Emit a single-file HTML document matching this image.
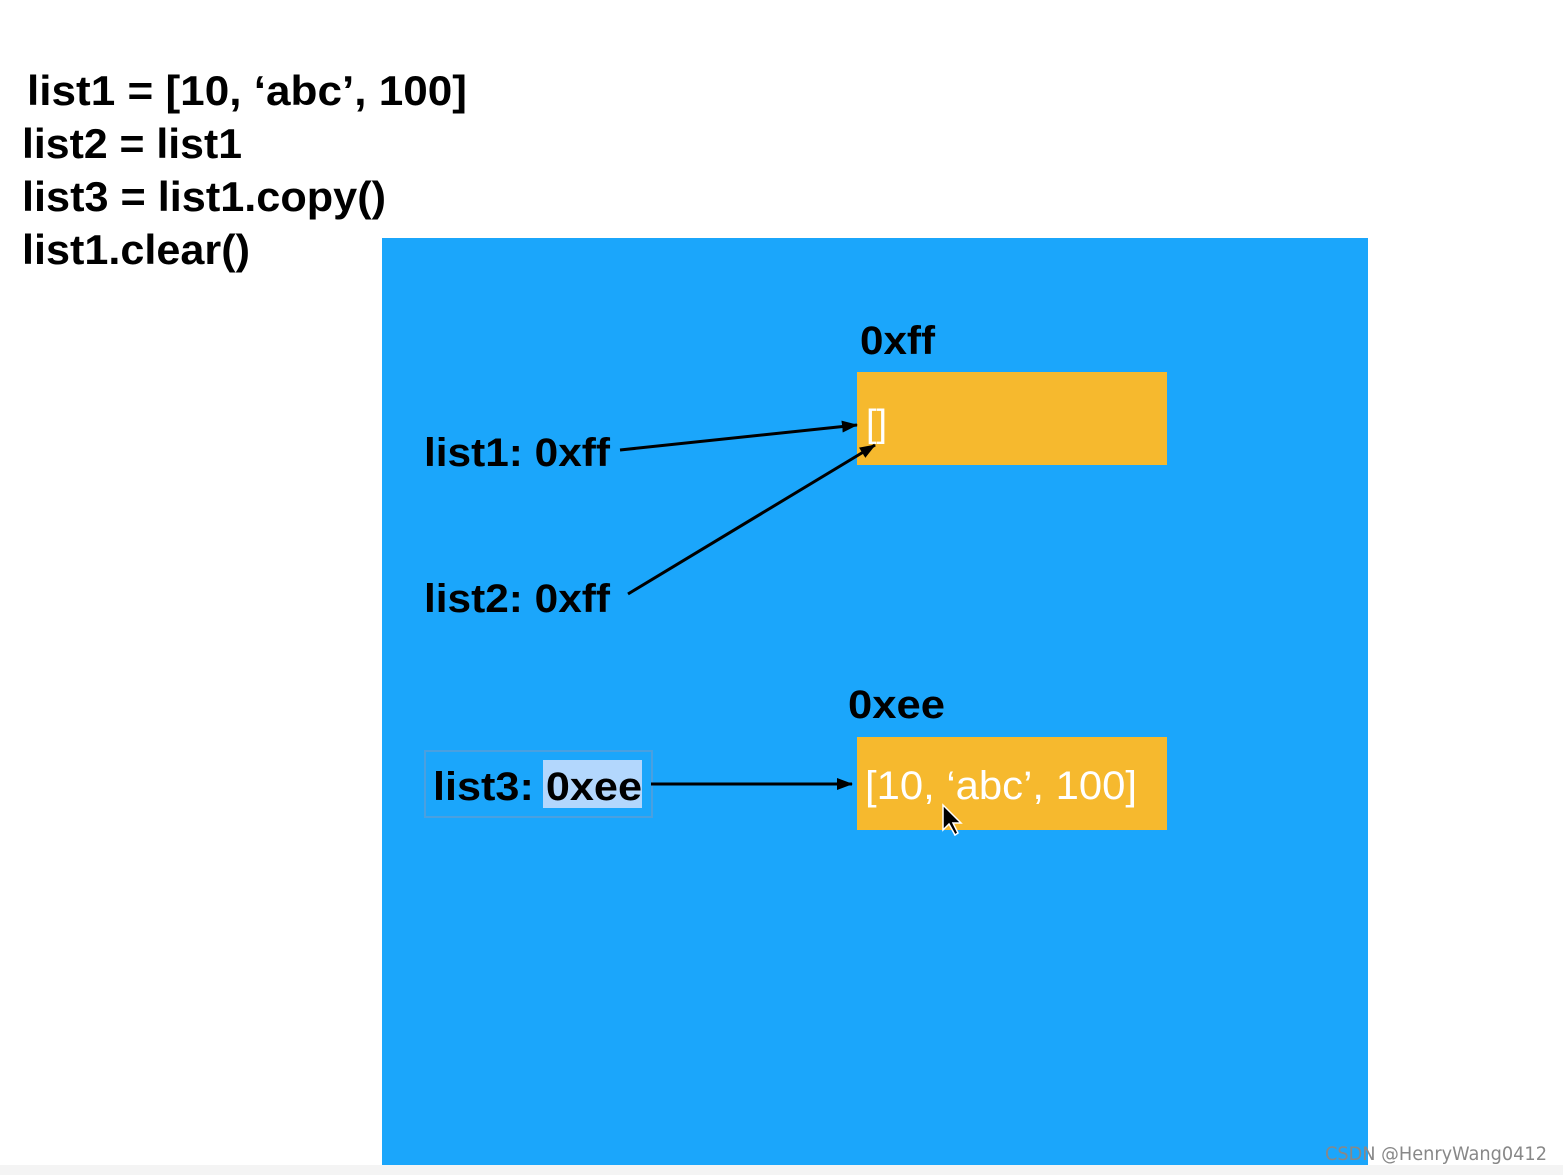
<!DOCTYPE html>
<html><head><style>body{margin:0;background:#fff}svg{display:block}</style></head><body>
<svg width="1563" height="1175" xmlns="http://www.w3.org/2000/svg" font-family="Liberation Sans, sans-serif">
<defs><marker id="a" markerWidth="16" markerHeight="12" refX="15" refY="6" orient="auto" markerUnits="userSpaceOnUse"><path d="M0,0 L16,6 L0,12 Z" fill="#000"/></marker></defs>
<rect x="0" y="1165" width="1563" height="10" fill="#f4f4f4"/>
<rect x="382" y="238" width="986" height="927" fill="#1ba6fb"/>
<g font-weight="bold" font-size="42" fill="#000">
<text x="27" y="105" textLength="440" lengthAdjust="spacingAndGlyphs">list1 = [10, ‘abc’, 100]</text>
<text x="22" y="158" textLength="220" lengthAdjust="spacingAndGlyphs">list2 = list1</text>
<text x="22" y="211" textLength="364" lengthAdjust="spacingAndGlyphs">list3 = list1.copy()</text>
<text x="22" y="264" textLength="228" lengthAdjust="spacingAndGlyphs">list1.clear()</text>
</g>
<rect x="857" y="372" width="310" height="93" fill="#f6b92e"/>
<rect x="857" y="737" width="310" height="93" fill="#f6b92e"/>
<g font-weight="bold" font-size="40" fill="#000">
<text x="860" y="354" textLength="75" lengthAdjust="spacingAndGlyphs">0xff</text>
<text x="848" y="718" textLength="97" lengthAdjust="spacingAndGlyphs">0xee</text>
<text x="424" y="466" textLength="186" lengthAdjust="spacingAndGlyphs">list1: 0xff</text>
<text x="424" y="612" textLength="186" lengthAdjust="spacingAndGlyphs">list2: 0xff</text>
</g>
<rect x="425" y="751" width="227" height="66" fill="none" stroke="#4aa0e0" stroke-width="2"/>
<rect x="543" y="760" width="99" height="48" fill="#b3d7fd"/>
<text x="433" y="800" font-weight="bold" font-size="40" textLength="209" lengthAdjust="spacingAndGlyphs">list3: 0xee</text>
<text x="865" y="799" font-size="40" fill="#fff" textLength="272" lengthAdjust="spacingAndGlyphs">[10, ‘abc’, 100]</text>
<text x="866" y="436" font-size="38" fill="#fff">[]</text>
<g stroke="#000" stroke-width="3" fill="none">
<line x1="620" y1="450" x2="857" y2="425" marker-end="url(#a)"/>
<line x1="628" y1="594" x2="875" y2="445" marker-end="url(#a)"/>
<line x1="651" y1="784" x2="852" y2="784" marker-end="url(#a)"/>
</g>
<path d="M943,805 L943,830 L949,824 L955,835 L958,833 L953,823 L961,823 Z" fill="#000" stroke="#fff" stroke-width="1.5"/>
<text x="1325" y="1160" font-size="19" fill="#888" font-family="DejaVu Sans, sans-serif" textLength="222" lengthAdjust="spacingAndGlyphs">CSDN @HenryWang0412</text>
</svg>
</body></html>
